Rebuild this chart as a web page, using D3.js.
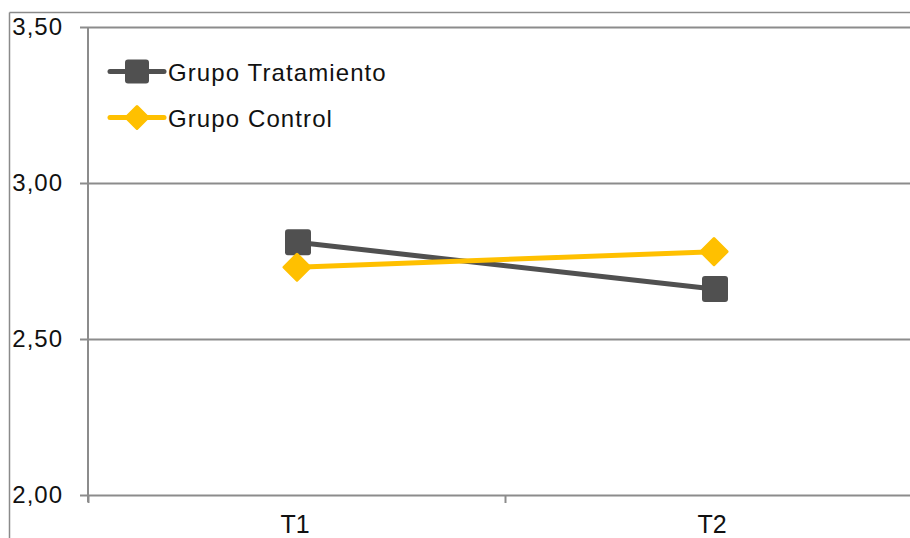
<!DOCTYPE html>
<html>
<head>
<meta charset="utf-8">
<script src="https://cdn.jsdelivr.net/npm/d3@7"></script>
<style>
  html, body { margin: 0; padding: 0; background: #fff; }
  svg { display: block; font-family: "Liberation Sans", Arial, sans-serif; }
</style>
</head>
<body>
<svg id="chart" width="910" height="538"></svg>
<script>
// Measurement times and group means
const categories = ["T1", "T2"];
const tratamiento = [2.81, 2.66];
const control = [2.73, 2.78];
const yTicks = [2.0, 2.5, 3.0, 3.5];
const seriesNames = ["Grupo Tratamiento", "Grupo Control"];

const svg = d3.select("#chart");
const W = 910, H = 538;

const colTrat = "#505050";
const colCtrl = "#FFC000";
const gridCol = "#8c8c8c";

// outer chart frame (top and left edges visible)
svg.append("line").attr("x1", 9.5).attr("x2", 9.5).attr("y1", 12.5).attr("y2", H)
  .attr("stroke", "#8a8a8a").attr("stroke-width", 1.5);
svg.append("line").attr("x1", 9.5).attr("x2", W).attr("y1", 12.5).attr("y2", 12.5)
  .attr("stroke", "#8a8a8a").attr("stroke-width", 1.5);

const x = d3.scalePoint().domain(categories).range([88.5, 922.5]).padding(0.5);
const y = d3.scaleLinear().domain([2, 3.5]).range([495, 27]);

// horizontal gridlines with left tick marks
const yAxis = d3.axisLeft(y).tickValues(yTicks)
  .tickSize(-(W - 88)).tickFormat(d => d3.format(".2f")(d).replace(".", ","));
const gy = svg.append("g").attr("transform", "translate(88,0)").call(yAxis);
gy.select(".domain").remove();
gy.selectAll(".tick line").attr("stroke", gridCol).attr("stroke-width", 2)
  .attr("x1", -8);
gy.selectAll(".tick text")
  .attr("x", -25).attr("dy", null).attr("y", 7)
  .attr("font-size", 24).attr("letter-spacing", 1)
  .attr("fill", "#111").attr("text-anchor", "end");

// vertical value axis line
svg.append("line").attr("x1", 88).attr("x2", 88).attr("y1", 27).attr("y2", 502)
  .attr("stroke", gridCol).attr("stroke-width", 2);

// category axis: boundary ticks and labels
const bounds = [88.5, 505.5, 922.5];
svg.selectAll(".xtick").data(bounds).enter().append("line")
  .attr("x1", d => d).attr("x2", d => d).attr("y1", 495).attr("y2", 503)
  .attr("stroke", gridCol).attr("stroke-width", 2);
svg.selectAll(".xlab").data(categories).enter().append("text")
  .attr("x", d => x(d) - 2).attr("y", 533)
  .attr("text-anchor", "middle").attr("font-size", 25).attr("fill", "#111")
  .text(d => d);

// series lines
const line = d3.line().x((d, i) => x(categories[i])).y(d => y(d));
svg.append("path").datum(tratamiento).attr("d", line)
  .attr("fill", "none").attr("stroke", colTrat).attr("stroke-width", 5);
svg.append("path").datum(control).attr("d", line)
  .attr("fill", "none").attr("stroke", colCtrl).attr("stroke-width", 5);

// markers
const sq = 26;
svg.selectAll(".sq").data(tratamiento).enter().append("rect")
  .attr("x", (d, i) => x(categories[i]) - sq / 2 + 1)
  .attr("y", d => y(d) - sq / 2)
  .attr("width", sq).attr("height", sq).attr("rx", 3)
  .attr("fill", colTrat);
const dm = 13;
const diamond = (cx, cy, r) => `M${cx},${cy - r}L${cx + r},${cy}L${cx},${cy + r}L${cx - r},${cy}Z`;
svg.selectAll(".dm").data(control).enter().append("path")
  .attr("d", (d, i) => diamond(x(categories[i]), y(d), dm))
  .attr("fill", colCtrl).attr("stroke", colCtrl).attr("stroke-width", 3)
  .attr("stroke-linejoin", "round");

// legend
const legend = svg.append("g");
const legY = [71.5, 117.5];
const legCols = [colTrat, colCtrl];
seriesNames.forEach((name, i) => {
  const g = legend.append("g");
  g.append("line").attr("x1", 110).attr("x2", 164).attr("y1", legY[i]).attr("y2", legY[i])
    .attr("stroke", legCols[i]).attr("stroke-width", 5).attr("stroke-linecap", "round");
  if (i === 0) {
    g.append("rect").attr("x", 125).attr("y", legY[i] - 12).attr("width", 24).attr("height", 24)
      .attr("rx", 3).attr("fill", legCols[i]);
  } else {
    g.append("path").attr("d", diamond(137, legY[i], 11))
      .attr("fill", legCols[i]).attr("stroke", legCols[i]).attr("stroke-width", 3)
      .attr("stroke-linejoin", "round");
  }
  g.append("text").attr("x", 168).attr("y", legY[i] + 9)
    .attr("font-size", 24).attr("letter-spacing", 1.1).attr("fill", "#111")
    .text(name);
});
</script>
</body>
</html>
